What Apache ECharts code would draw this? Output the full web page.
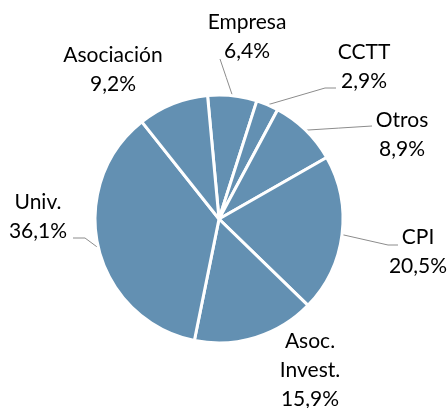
<!DOCTYPE html>
<html>
<head>
<meta charset="utf-8">
<script src="https://cdn.jsdelivr.net/npm/echarts@6/dist/echarts.min.js"></script>
<style>
  html, body { margin: 0; padding: 0; background: #fff; }
  #chart { width: 448px; height: 408px; }
</style>
</head>
<body>
<div id="chart"></div>
<script>
// datos
const categories = ['Empresa', 'CCTT', 'Otros', 'CPI', 'Asoc.\nInvest.', 'Univ.', 'Asociación'];
const shares = [6.4, 2.9, 8.9, 20.5, 15.9, 36.1, 9.2];

// posición de cada etiqueta (centro del texto)
const labelSpots = [[247, 37], [364, 67], [402, 135], [418, 252], [310, 370], [38, 217], [113, 70]];
// final de la línea guía (desde el centro de la etiqueta) y tramo horizontal; null = sin línea
const guideEnds = [[-27, 22, 0], [-28, 21, -11], [-30, -9, 0], [-20, -7, -10], null, [35, 21, 12], null];

const chart = echarts.init(document.getElementById('chart'), null, { renderer: 'canvas' });

const fmt = (v) => v.toFixed(1).replace('.', ',') + '%';

chart.setOption({
  animation: false,
  series: [
    {
      type: 'pie',
      center: [219, 219],
      radius: [0, 124],
      startAngle: 95.3,
      clockwise: true,
      data: categories.map((name, i) => ({
        name,
        value: shares[i],
        labelLine: { show: guideEnds[i] != null },
      })),
      itemStyle: {
        color: '#6390b2',
        borderColor: '#ffffff',
        borderWidth: 3,
      },
      label: {
        show: true,
        position: 'outside',
        formatter: (p) => p.name + '\n' + fmt(p.value),
        fontFamily: 'Lato',
        fontSize: 21,
        lineHeight: 29,
        color: '#000',
        align: 'center',
      },
      labelLine: {
        show: true,
        length: 10,
        length2: 10,
        lineStyle: { color: '#8c8c8c', width: 1 },
      },
      labelLayout: (params) => {
        const i = params.dataIndex;
        const spot = labelSpots[i];
        const out = { x: spot[0], y: spot[1], align: 'center', verticalAlign: 'middle' };
        const g = guideEnds[i];
        if (g && params.labelLinePoints) {
          const start = params.labelLinePoints[0];
          const end = [spot[0] + g[0], spot[1] + g[1]];
          const mid = g[2] !== 0
            ? [end[0] + g[2], end[1]]
            : [(start[0] + end[0]) / 2, (start[1] + end[1]) / 2];
          out.labelLinePoints = [start, mid, end];
        }
        return out;
      },
      emphasis: { disabled: true },
    },
  ],
});
</script>
</body>
</html>
